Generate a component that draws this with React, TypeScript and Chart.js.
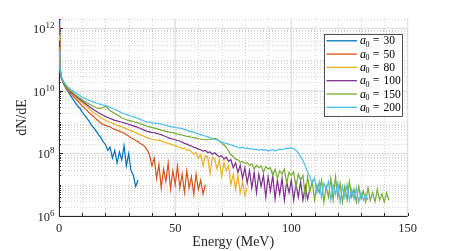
import React, { useEffect, useRef } from "react";
import { Chart, registerables } from "chart.js";

Chart.register(...registerables);

// Energy grid (MeV)
const energy = [
  0, 0.3, 0.6, 1, 2, 3, 4, 5, 6, 7, 8, 9, 10,
  11, 12, 13, 14, 15, 16, 17, 18, 19, 20,
  21, 22, 23, 24, 25, 26, 27, 28, 29, 30,
  31, 32, 33, 34, 35, 36, 37, 38, 39, 40,
  41, 42, 43, 44, 45, 46, 47, 48, 49, 50,
  51, 52, 53, 54, 55, 56, 57, 58, 59, 60,
  61, 62, 63, 64, 65, 66, 67, 68, 69, 70,
  71, 72, 73, 74, 75, 76, 77, 78, 79, 80,
  81, 82, 83, 84, 85, 86, 87, 88, 89, 90,
  91, 92, 93, 94, 95, 96, 97, 98, 99, 100,
  101, 102, 103, 104, 105, 106, 107, 108, 109, 110,
  111, 112, 113, 114, 115, 116, 117, 118, 119, 120,
  121, 122, 123, 124, 125, 126, 127, 128, 129, 130,
  131, 132, 133, 134, 135, 136, 137, 138, 139, 140,
  141, 142,
];

const seriesLabels = ["30", "50", "80", "100", "150", "200"];
const seriesColors = ["#0072BD", "#D95319", "#EDB120", "#7E2F8E", "#77AC30", "#4DBEEE"];

const a0_30 = [
  2.5e12, 1.6e11, 5.0e10, 2.8e10,
  1.66e10, 1.2e10, 9.3e9, 7.1e9, 5.5e9, 4.2e9, 3.3e9, 2.8e9, 2.1e9,
  1.66e9, 1.35e9, 1.07e9, 7.9e8, 6.6e8, 5.2e8, 4.0e8, 3.2e8, 2.4e8, 1.9e8,
  1.26e8, 1.6e8, 7.1e7, 1.26e8, 5.0e7, 1.12e8, 6.3e7, 1.78e8, 4.0e7, 1.0e8,
  2.8e7, 2.0e7, 8.9e6, 1.4e7,
];

const a0_50 = [
  1.12e12, 1.26e11, 4.5e10, 2.6e10,
  1.66e10, 1.26e10, 1.0e10, 8.3e9, 6.9e9, 5.8e9, 4.8e9, 4.0e9, 3.3e9,
  2.8e9, 2.4e9, 2.0e9, 1.74e9, 1.5e9, 1.26e9, 1.1e9, 9.5e8, 8.5e8, 7.9e8,
  7.4e8, 7.1e8, 6.3e8, 6.0e8, 5.5e8, 5.2e8, 4.8e8, 4.5e8, 4.0e8, 3.6e8,
  3.2e8, 2.9e8, 2.6e8, 2.4e8, 2.1e8, 1.9e8, 1.66e8, 1.26e8, 8.9e7, 4.0e7,
  7.1e7, 1.6e7, 4.5e7, 7.9e6, 3.2e7, 1.26e7, 5.0e7, 7.1e6, 2.8e7, 1.0e7,
  4.0e7, 7.9e6, 2.2e7, 5.6e6, 2.8e7, 7.9e6, 1.8e7, 5.0e6, 2.2e7, 7.1e6,
  1.4e7, 5.0e6, 1.0e7,
];

const a0_80 = [
  6.3e11, 1.0e11, 4.0e10, 2.6e10,
  1.74e10, 1.32e10, 1.05e10, 8.9e9, 7.6e9, 6.5e9, 5.5e9, 4.8e9, 4.2e9,
  3.6e9, 3.2e9, 2.7e9, 2.3e9, 2.0e9, 1.78e9, 1.58e9, 1.41e9, 1.26e9, 1.15e9,
  1.07e9, 1.0e9, 9.3e8, 8.7e8, 8.1e8, 7.6e8, 7.1e8, 6.6e8, 6.2e8, 5.8e8,
  5.4e8, 5.0e8, 4.6e8, 4.3e8, 4.0e8, 3.7e8, 3.5e8, 3.2e8, 3.0e8, 2.9e8,
  2.8e8, 2.6e8, 2.7e8, 2.5e8, 2.3e8, 2.2e8, 2.1e8, 2.0e8, 1.86e8, 1.78e8,
  1.66e8, 1.58e8, 1.41e8, 1.51e8, 1.26e8, 1.32e8, 1.12e8, 9.5e7, 1.07e8, 7.1e7,
  9.3e7, 4.0e7, 8.5e7, 7.9e7, 2.2e7, 7.6e7, 6.6e7, 3.2e7, 6.3e7, 1.8e7,
  5.2e7, 2.8e7, 4.0e7, 1.0e7, 2.2e7, 7.1e6, 2.0e7, 5.6e6, 1.26e7, 4.5e6,
  7.9e6,
];

const a0_100 = [
  4.0e11, 8.9e10, 4.0e10, 2.6e10,
  1.78e10, 1.35e10, 1.1e10, 9.3e9, 8.1e9, 7.1e9, 6.2e9, 5.4e9, 4.7e9,
  4.1e9, 3.6e9, 3.2e9, 2.8e9, 2.5e9, 2.24e9, 2.0e9, 1.82e9, 1.66e9, 1.51e9,
  1.41e9, 1.32e9, 1.23e9, 1.15e9, 1.1e9, 1.05e9, 1.0e9, 9.5e8, 9.1e8, 8.5e8,
  8.1e8, 7.6e8, 7.2e8, 6.8e8, 6.3e8, 5.9e8, 5.5e8, 5.1e8, 4.9e8, 4.7e8,
  4.6e8, 4.4e8, 4.2e8, 4.0e8, 3.7e8, 3.5e8, 3.2e8, 3.0e8, 2.9e8, 2.75e8,
  2.6e8, 2.5e8, 2.3e8, 2.1e8, 2.0e8, 1.82e8, 1.74e8, 1.58e8, 1.51e8, 1.38e8,
  1.32e8, 1.2e8, 1.26e8, 1.07e8, 1.12e8, 9.5e7, 1.05e8, 8.9e7, 7.9e7, 8.5e7,
  6.6e7, 7.6e7, 5.6e7, 6.3e7, 3.5e7, 5.0e7, 2.5e7, 4.2e7, 1.6e7, 3.5e7,
  1.12e7, 2.8e7, 7.9e6, 2.5e7, 5.6e6, 2.2e7, 8.9e6, 2.0e7, 4.0e6, 1.8e7,
  6.3e6, 2.0e7, 3.5e6, 1.4e7, 5.0e6, 1.6e7, 3.2e6, 1.26e7, 5.6e6, 1.4e7,
  3.2e6, 1.12e7, 4.0e6, 1.26e7, 3.2e6, 8.9e6, 3.5e6, 7.1e6,
];

const a0_150 = [
  2.5e11, 7.9e10, 4.0e10, 2.7e10,
  1.86e10, 1.41e10, 1.17e10, 1.0e10, 8.7e9, 7.6e9, 6.6e9, 5.9e9, 5.2e9,
  4.7e9, 4.2e9, 3.8e9, 3.5e9, 3.2e9, 2.9e9, 2.75e9, 2.75e9, 3.0e9, 3.2e9,
  2.8e9, 2.3e9, 2.1e9, 1.9e9, 1.74e9, 1.58e9, 1.38e9, 1.29e9, 1.2e9, 1.15e9,
  1.1e9, 1.05e9, 1.0e9, 9.5e8, 8.9e8, 8.5e8, 7.9e8, 7.4e8, 7.1e8, 6.8e8,
  6.5e8, 6.2e8, 5.9e8, 5.6e8, 5.4e8, 5.1e8, 4.9e8, 4.7e8, 4.6e8, 4.4e8,
  4.2e8, 4.0e8, 3.9e8, 3.7e8, 3.5e8, 3.45e8, 3.3e8, 3.2e8, 3.1e8, 2.95e8,
  2.9e8, 2.8e8, 2.75e8, 2.75e8, 2.8e8, 2.95e8, 3.0e8, 2.9e8, 2.5e8, 2.2e8,
  1.86e8, 1.58e8, 1.2e8, 9.1e7, 7.9e7, 6.6e7, 6.3e7, 5.2e7, 5.6e7, 4.8e7,
  5.0e7, 4.2e7, 4.6e7, 3.2e7, 4.2e7, 3.5e7, 4.0e7, 2.5e7, 3.8e7, 3.2e7,
  3.5e7, 2.0e7, 3.2e7, 1.6e7, 2.8e7, 2.2e7, 3.2e7, 1.12e7, 2.5e7, 2.0e7,
  2.6e7, 7.9e6, 2.2e7, 1.4e7, 2.0e7, 4.0e6, 1.8e7, 6.3e6, 1.26e7, 3.2e6,
  1.0e7, 5.6e6, 1.4e7, 2.8e6, 8.9e6, 4.0e6, 1.6e7, 3.2e6, 1.8e7, 4.0e6,
  1.12e7, 2.8e6, 8.9e6, 3.2e6, 1.26e7, 4.0e6, 7.1e6, 2.8e6, 8.9e6, 3.5e6,
  6.3e6, 2.8e6, 7.9e6, 3.2e6, 5.6e6, 2.8e6, 7.1e6, 3.2e6, 5.0e6, 2.8e6,
  5.6e6, 3.2e6,
];

const a0_200 = [
  2.0e11, 7.1e10, 4.0e10, 2.8e10,
  2.0e10, 1.58e10, 1.32e10, 1.12e10, 1.0e10, 8.9e9, 7.9e9, 7.1e9, 6.3e9,
  5.8e9, 5.4e9, 5.0e9, 4.7e9, 4.4e9, 4.1e9, 3.9e9, 3.7e9, 3.55e9, 3.4e9,
  3.2e9, 2.95e9, 2.75e9, 2.6e9, 2.4e9, 2.2e9, 2.0e9, 1.86e9, 1.78e9, 1.66e9,
  1.58e9, 1.51e9, 1.41e9, 1.32e9, 1.23e9, 1.15e9, 1.07e9, 1.02e9, 1.0e9, 9.5e8,
  9.3e8, 9.1e8, 9.1e8, 8.7e8, 8.3e8, 7.9e8, 7.6e8, 7.2e8, 7.1e8, 6.8e8,
  6.6e8, 6.5e8, 6.3e8, 6.0e8, 5.6e8, 5.2e8, 5.0e8, 4.8e8, 4.5e8, 4.2e8,
  4.0e8, 3.8e8, 3.55e8, 3.4e8, 3.2e8, 3.0e8, 2.8e8, 2.7e8, 2.5e8, 2.3e8,
  2.2e8, 2.1e8, 2.0e8, 1.9e8, 1.78e8, 1.66e8, 1.58e8, 1.51e8, 1.58e8, 1.45e8,
  1.51e8, 1.38e8, 1.45e8, 1.32e8, 1.38e8, 1.26e8, 1.35e8, 1.26e8, 1.32e8, 1.2e8,
  1.26e8, 1.32e8, 1.2e8, 1.29e8, 1.38e8, 1.32e8, 1.41e8, 1.48e8, 1.45e8, 1.51e8,
  1.41e8, 1.26e8, 1.05e8, 7.9e7, 6.0e7, 4.0e7, 2.5e7, 1.8e7, 1.12e7, 1.6e7,
  5.6e6, 1.26e7, 4.0e6, 1.12e7, 7.1e6, 1.26e7, 3.2e6, 1.0e7, 5.0e6, 1.12e7,
  2.8e6, 8.9e6, 4.0e6, 1.0e7, 3.2e6, 7.1e6, 3.5e6, 7.9e6, 2.8e6, 5.6e6,
  3.2e6, 5.0e6, 3.2e6,
];

const seriesValues = [a0_30, a0_50, a0_80, a0_100, a0_150, a0_200];

// Axis ticks
const xMajorTicks = [0, 50, 100, 150];
const xTickLabels = ["0", "50", "100", "150"];
const xMinorTicks = [10, 20, 30, 40, 60, 70, 80, 90, 110, 120, 130, 140];
const yMajorTicks = [1e6, 1e8, 1e10, 1e12];
const yTickExponents = ["6", "8", "10", "12"];

const FONT = "'Liberation Serif', 'Times New Roman', serif";
const AXIS_COLOR = "#262626";

const matlabPlugin = {
  id: "matlabAxes",
  beforeDatasetsDraw(chart: any) {
    const { ctx, chartArea: a } = chart;
    const x = chart.scales.x;
    const y = chart.scales.y;
    ctx.save();
    // minor grid (dotted)
    const yMinor: number[] = [];
    for (let p = 6; p <= 12; p++) {
      for (let k = 1; k <= 9; k++) {
        const v = k * Math.pow(10, p);
        if (v > y.max) break;
        if (k === 1 && p % 2 === 0) continue;
        yMinor.push(v);
      }
    }
    ctx.setLineDash([1, 2]);
    ctx.lineWidth = 1;
    ctx.strokeStyle = "rgba(38,38,38,0.2)";
    ctx.beginPath();
    for (const v of yMinor) {
      const py = Math.round(y.getPixelForValue(v)) + 0.5;
      ctx.moveTo(a.left, py);
      ctx.lineTo(a.right, py);
    }
    for (const v of xMinorTicks) {
      const px = Math.round(x.getPixelForValue(v)) + 0.5;
      ctx.moveTo(px, a.top);
      ctx.lineTo(px, a.bottom);
    }
    ctx.stroke();
    // major grid
    ctx.setLineDash([]);
    ctx.strokeStyle = "rgba(38,38,38,0.13)";
    ctx.lineWidth = 1.5;
    ctx.beginPath();
    for (const v of yMajorTicks) {
      const py = y.getPixelForValue(v);
      ctx.moveTo(a.left, py);
      ctx.lineTo(a.right, py);
    }
    for (const v of xMajorTicks) {
      const px = x.getPixelForValue(v);
      ctx.moveTo(px, a.top);
      ctx.lineTo(px, a.bottom);
    }
    ctx.stroke();
    // axes lines
    ctx.strokeStyle = AXIS_COLOR;
    ctx.lineWidth = 1;
    ctx.beginPath();
    ctx.moveTo(a.left + 0.5, a.top);
    ctx.lineTo(a.left + 0.5, a.bottom + 0.5);
    ctx.lineTo(a.right, a.bottom + 0.5);
    // x ticks
    for (const v of [...xMajorTicks, ...xMinorTicks]) {
      const px = Math.round(x.getPixelForValue(v)) + 0.5;
      ctx.moveTo(px, a.bottom);
      ctx.lineTo(px, a.bottom - 3);
    }
    // y ticks
    for (const v of yMajorTicks) {
      const py = Math.round(y.getPixelForValue(v)) + 0.5;
      ctx.moveTo(a.left, py);
      ctx.lineTo(a.left + 4, py);
    }
    for (const v of yMinor) {
      const py = Math.round(y.getPixelForValue(v)) + 0.5;
      ctx.moveTo(a.left, py);
      ctx.lineTo(a.left + 2, py);
    }
    ctx.stroke();

    // tick labels
    ctx.fillStyle = AXIS_COLOR;
    ctx.font = `12.5px ${FONT}`;
    ctx.textAlign = "center";
    ctx.textBaseline = "middle";
    xMajorTicks.forEach((v, i) => {
      ctx.fillText(xTickLabels[i], x.getPixelForValue(v), a.bottom + 12.5);
    });
    ctx.textAlign = "left";
    ctx.textBaseline = "alphabetic";
    yMajorTicks.forEach((v, i) => {
      const py = y.getPixelForValue(v);
      ctx.font = `12.5px ${FONT}`;
      const wb = ctx.measureText("10").width;
      ctx.font = `9px ${FONT}`;
      const ws = ctx.measureText(yTickExponents[i]).width;
      const right = a.left - 4.5;
      const start = right - wb - ws;
      ctx.font = `12.5px ${FONT}`;
      ctx.fillText("10", start, py + 5);
      ctx.font = `9px ${FONT}`;
      ctx.fillText(yTickExponents[i], start + wb, py);
    });
    ctx.restore();
  },
  afterDatasetsDraw(chart: any) {
    const { ctx } = chart;
    ctx.save();
    const bx = 324.5, by = 34.5, bw = 78, bh = 82;
    ctx.fillStyle = "#ffffff";
    ctx.fillRect(bx, by, bw, bh);
    ctx.strokeStyle = AXIS_COLOR;
    ctx.lineWidth = 0.8;
    ctx.strokeRect(bx, by, bw, bh);
    seriesLabels.forEach((lab, i) => {
      const cy = 40.8 + 13.3 * i;
      ctx.strokeStyle = seriesColors[i];
      ctx.lineWidth = 1.3;
      ctx.beginPath();
      ctx.moveTo(326.5, cy);
      ctx.lineTo(357, cy);
      ctx.stroke();
      ctx.fillStyle = "#000";
      ctx.textBaseline = "alphabetic";
      ctx.textAlign = "left";
      const base = cy + 3.5;
      ctx.font = `italic 12px ${FONT}`;
      ctx.fillText("a", 360, base);
      ctx.font = `8px ${FONT}`;
      ctx.fillText("0", 365.5, base + 2.5);
      ctx.font = `12px ${FONT}`;
      ctx.fillText("=", 372.8, base);
      ctx.font = `11.5px ${FONT}`;
      ctx.fillText(lab, 383.5, base);
    });
    ctx.restore();
  },
};

export default function App() {
  const ref = useRef<HTMLCanvasElement | null>(null);
  useEffect(() => {
    if (!ref.current) return;
    const datasets = seriesValues.map((vals, i) => ({
      label: "a0 = " + seriesLabels[i],
      data: vals.map((v, j) => ({ x: energy[j], y: v })),
      borderColor: seriesColors[i],
      backgroundColor: seriesColors[i],
      borderWidth: 1.2,
      pointRadius: 0,
      fill: false,
      tension: 0,
      order: seriesValues.length - i,
    }));
    const chart = new Chart(ref.current, {
      type: "line",
      data: { datasets },
      options: {
        animation: false,
        responsive: false,
        devicePixelRatio: 1,
        events: [],
        layout: { padding: { top: 19, right: 42.5, left: 0, bottom: 0 } },
        plugins: { legend: { display: false }, tooltip: { enabled: false } },
        scales: {
          x: {
            type: "linear",
            min: 0,
            max: 150,
            grid: { display: false },
            border: { display: false },
            ticks: { display: false },
            title: {
              display: true,
              text: "Energy (MeV)",
              color: AXIS_COLOR,
              font: { family: FONT, size: 14 },
              padding: { top: 0, bottom: 0 },
            },
            afterFit(s: any) {
              s.height = 35;
            },
          },
          y: {
            type: "logarithmic",
            min: 1e6,
            max: 2e12,
            grid: { display: false },
            border: { display: false },
            ticks: { display: false },
            title: {
              display: true,
              text: "dN/dE",
              color: AXIS_COLOR,
              font: { family: FONT, size: 14 },
              padding: { top: 14, bottom: 0 },
            },
            afterFit(s: any) {
              s.width = 59;
            },
          },
        },
      } as any,
      plugins: [matlabPlugin],
    });
    return () => chart.destroy();
  }, []);
  return (
    <div style={{ position: "fixed", left: 0, top: 0, width: 450, height: 251, background: "#fff" }}>
      <canvas ref={ref} width={450} height={251} style={{ display: "block", width: 450, height: 251 }} />
    </div>
  );
}
